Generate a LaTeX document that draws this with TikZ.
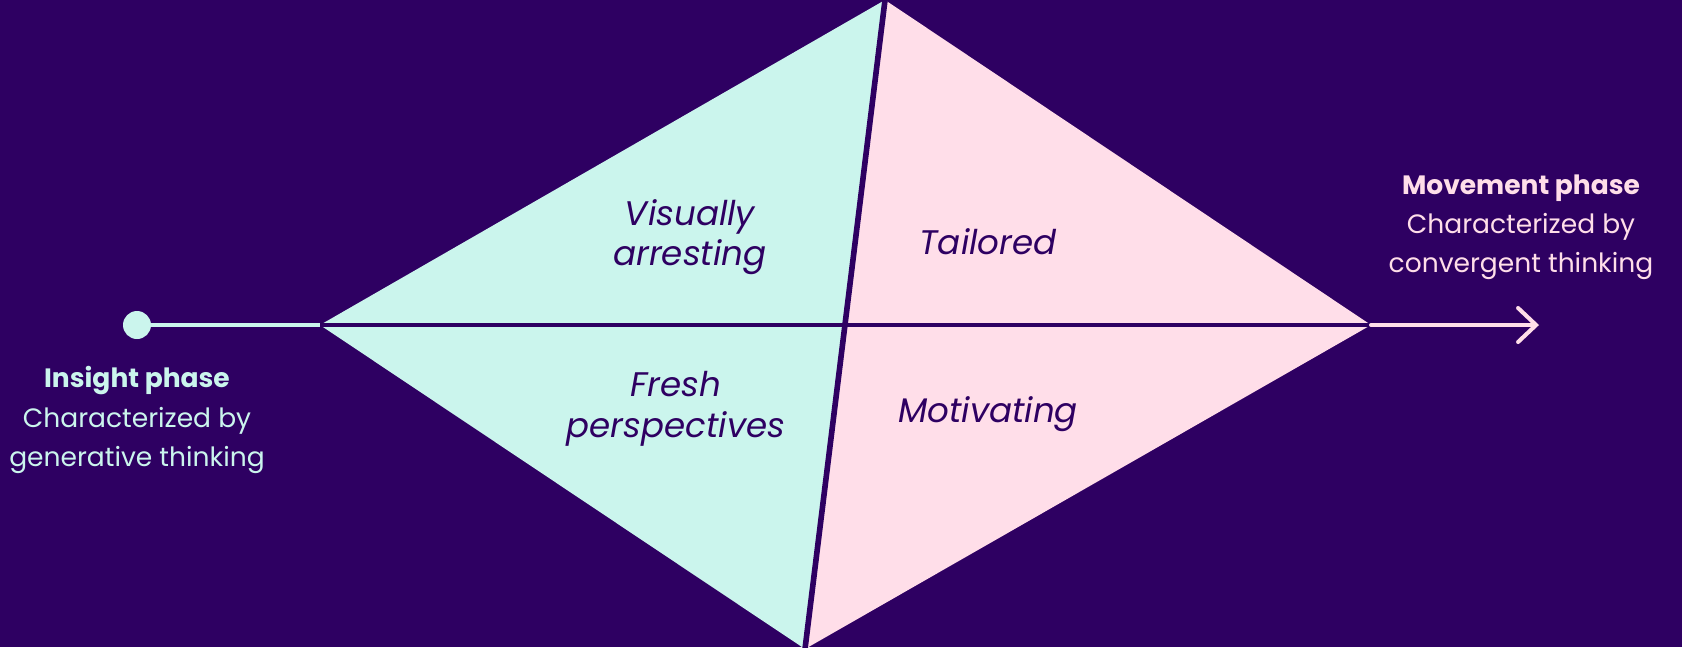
\documentclass[tikz,border=0pt]{standalone}
\usepackage{fontspec}
\setmainfont{Poppins}
\usetikzlibrary{arrows.meta}
\definecolor{night}{HTML}{2E0062}
\definecolor{mint}{HTML}{CBF5ED}
\definecolor{blush}{HTML}{FFDEE9}

\begin{document}
\begin{tikzpicture}[x=0.02cm,y=-0.02cm,
    phase/.style={align=center,inner sep=0pt,font=\fontsize{15.1}{22.3}\selectfont},
    quad/.style={align=center,inner sep=0pt,text=night,font=\itshape\fontsize{19.4}{23}\selectfont},
    edge/.style={line width=2.3pt}]
  %
  \fill[night] (0,0) rectangle (1682,647);
  \useasboundingbox (0,0) rectangle (1682,647);

  \coordinate (west) at (320,325);
  \coordinate (east) at (1371,325);
  \coordinate (north) at (885,0);
  \coordinate (south) at (805,649);

  % the two halves of the diamond
  \fill[mint] (west) -- (north) -- (south) -- cycle;
  \fill[blush] (north) -- (east) -- (south) -- cycle;
  \draw[night,edge,line width=3.2pt] (north) -- (south);
  \draw[night,edge] (west) -- (east);

  % timeline in and out
  \node[circle,fill=mint,inner sep=0pt,minimum size=0.56cm] (start) at (137,325) {};
  \draw[mint,edge] (start) -- (west);
  \coordinate (finish) at (1539,325);
  \draw[blush,edge,line cap=round,-{Straight Barb[length=0.36cm,width=0.68cm,line cap=round]}] (east) -- (finish);

  \node[phase,text=mint] (insight) at (137,420)
    {\textbf{Insight phase}\\Characterized by\\generative thinking};
  \node[phase,text=blush] (movement) at (1521,227)
    {\textbf{Movement phase}\\Characterized by\\convergent thinking};

  \node[quad] (visually) at (690,237) {Visually\\arresting};
  \node[quad] (tailored) at (988,242) {Tailored};
  \node[quad] (fresh) at (676,409) {Fresh\\perspectives};
  \node[quad] (motivating) at (988,414) {Motivating};

\end{tikzpicture}
\end{document}
